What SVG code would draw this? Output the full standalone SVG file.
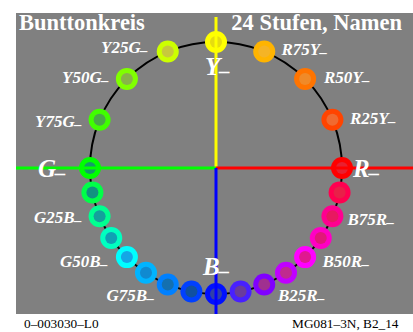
<svg xmlns="http://www.w3.org/2000/svg" width="413" height="332" viewBox="0 0 413 332">
<style>
.t{font-family:"Liberation Serif","Times New Roman",serif;fill:#fff;font-weight:bold}
.lab{font-family:"Liberation Serif","Times New Roman",serif;fill:#fff;font-weight:bold;font-style:italic;font-size:17px}
.big{font-family:"Liberation Serif","Times New Roman",serif;fill:#fff;font-weight:bold;font-style:italic;font-size:25px}
.foot{font-family:"Liberation Serif","Times New Roman",serif;fill:#000;font-size:13.3px}
.ax{stroke-width:3;fill:none}
</style>
<rect x="0" y="0" width="413" height="332" fill="#fff"/>
<rect x="16" y="13" width="397" height="301" fill="#808080"/>
<g id="connectors">
<circle cx="216" cy="168" r="126" fill="none" stroke="#000" stroke-width="2"/>
</g>
<g id="nodes">
<g id="n-Y"><circle cx="216" cy="42" r="11" fill="#ffff00"/><circle cx="216" cy="42" r="6" fill="#e6dc10"/></g>
<g id="n-R75Y"><circle cx="264.22" cy="51.59" r="11" fill="#ffb400"/><circle cx="264.22" cy="51.59" r="6" fill="#f5b426"/></g>
<g id="n-R50Y"><circle cx="305.10" cy="78.90" r="11" fill="#ff7400"/><circle cx="305.10" cy="78.90" r="6" fill="#f08a28"/></g>
<g id="n-R25Y"><circle cx="332.41" cy="119.78" r="11" fill="#ff4400"/><circle cx="332.41" cy="119.78" r="6" fill="#f06a30"/></g>
<g id="n-R"><circle cx="342" cy="168" r="11" fill="#ff0000"/><circle cx="342" cy="168" r="6" fill="#e82030"/></g>
<g id="n-B88R"><circle cx="339.58" cy="192.58" r="11" fill="#ff0050"/><circle cx="339.58" cy="192.58" r="6" fill="#e82048"/></g>
<g id="n-B75R"><circle cx="332.41" cy="216.22" r="11" fill="#ff0090"/><circle cx="332.41" cy="216.22" r="6" fill="#e81860"/></g>
<g id="n-B63R"><circle cx="320.77" cy="238.00" r="11" fill="#ff00c4"/><circle cx="320.77" cy="238.00" r="6" fill="#e01878"/></g>
<g id="n-B50R"><circle cx="305.10" cy="257.10" r="11" fill="#ff00ff"/><circle cx="305.10" cy="257.10" r="6" fill="#e01890"/></g>
<g id="n-B38R"><circle cx="286.00" cy="272.77" r="11" fill="#c000ff"/><circle cx="286.00" cy="272.77" r="6" fill="#c02a90"/></g>
<g id="n-B25R"><circle cx="264.22" cy="284.41" r="11" fill="#8000ff"/><circle cx="264.22" cy="284.41" r="6" fill="#a03090"/></g>
<g id="n-B13R"><circle cx="240.58" cy="291.58" r="11" fill="#4820ff"/><circle cx="240.58" cy="291.58" r="6" fill="#6a3c9c"/></g>
<g id="n-B"><circle cx="216" cy="294" r="11" fill="#0010ff"/><circle cx="216" cy="294" r="6" fill="#3040a8"/></g>
<g id="n-G88B"><circle cx="191.42" cy="291.58" r="11" fill="#0040ff"/><circle cx="191.42" cy="291.58" r="6" fill="#1050a0"/></g>
<g id="n-G75B"><circle cx="167.78" cy="284.41" r="11" fill="#0080ff"/><circle cx="167.78" cy="284.41" r="6" fill="#1470b0"/></g>
<g id="n-G63B"><circle cx="146.00" cy="272.77" r="11" fill="#00b4ff"/><circle cx="146.00" cy="272.77" r="6" fill="#108ad0"/></g>
<g id="n-G50B"><circle cx="126.90" cy="257.10" r="11" fill="#00ffff"/><circle cx="126.90" cy="257.10" r="6" fill="#14a6e6"/></g>
<g id="n-G38B"><circle cx="111.23" cy="238.00" r="11" fill="#00ffc0"/><circle cx="111.23" cy="238.00" r="6" fill="#10a0b4"/></g>
<g id="n-G25B"><circle cx="99.59" cy="216.22" r="11" fill="#00ff90"/><circle cx="99.59" cy="216.22" r="6" fill="#14a09c"/></g>
<g id="n-G13B"><circle cx="92.42" cy="192.58" r="11" fill="#00ff48"/><circle cx="92.42" cy="192.58" r="6" fill="#129280"/></g>
<g id="n-G"><circle cx="90" cy="168" r="11" fill="#00ff00"/><circle cx="90" cy="168" r="6" fill="#159a6a"/></g>
<g id="n-Y75G"><circle cx="99.59" cy="119.78" r="11" fill="#40ff00"/><circle cx="99.59" cy="119.78" r="6" fill="#4aa84a"/></g>
<g id="n-Y50G"><circle cx="126.90" cy="78.90" r="11" fill="#80ff00"/><circle cx="126.90" cy="78.90" r="6" fill="#88b448"/></g>
<g id="n-Y25G"><circle cx="167.78" cy="51.59" r="11" fill="#ccff00"/><circle cx="167.78" cy="51.59" r="6" fill="#c8c83c"/></g>
</g>
<g id="axes">
<line class="ax" x1="216" y1="17" x2="216" y2="168" stroke="#ffff00"/>
<line class="ax" x1="16" y1="168" x2="216" y2="168" stroke="#00ff00"/>
<line class="ax" x1="216" y1="168" x2="413" y2="168" stroke="#ff0000"/>
<line class="ax" x1="216" y1="168" x2="216" y2="314" stroke="#0000ff"/>
</g>
<g id="labels">
<text class="t" x="19" y="30" font-size="22.5">Bunttonkreis</text>
<text class="t" x="402" y="30" font-size="22.5" text-anchor="end">24 Stufen, Namen</text>
<text class="big" x="205" y="75">Y<tspan dy="-5" font-size="21px">_</tspan></text>
<text class="big" x="38" y="177">G<tspan dy="-5" font-size="21px">_</tspan></text>
<text class="big" x="353" y="177">R<tspan dy="-5" font-size="21px">_</tspan></text>
<text class="big" x="203" y="275">B<tspan dy="-5" font-size="21px">_</tspan></text>
<text class="lab" x="101" y="53">Y25G<tspan dy="-3" font-size="15px">_</tspan></text>
<text class="lab" x="62" y="83">Y50G<tspan dy="-3" font-size="15px">_</tspan></text>
<text class="lab" x="35" y="126.5">Y75G<tspan dy="-3" font-size="15px">_</tspan></text>
<text class="lab" x="34" y="223">G25B<tspan dy="-3" font-size="15px">_</tspan></text>
<text class="lab" x="60" y="266.5">G50B<tspan dy="-3" font-size="15px">_</tspan></text>
<text class="lab" x="106.5" y="300.5">G75B<tspan dy="-3" font-size="15px">_</tspan></text>
<text class="lab" x="281.5" y="55">R75Y<tspan dy="-3" font-size="15px">_</tspan></text>
<text class="lab" x="324" y="82.5">R50Y<tspan dy="-3" font-size="15px">_</tspan></text>
<text class="lab" x="350" y="124">R25Y<tspan dy="-3" font-size="15px">_</tspan></text>
<text class="lab" x="347.5" y="225">B75R<tspan dy="-3" font-size="15px">_</tspan></text>
<text class="lab" x="322.5" y="266.5">B50R<tspan dy="-3" font-size="15px">_</tspan></text>
<text class="lab" x="278" y="301">B25R<tspan dy="-3" font-size="15px">_</tspan></text>
<text class="foot" x="24" y="327.5">0–003030–L0</text>
<text class="foot" x="398.5" y="327.5" text-anchor="end">MG081–3N, B2_14</text>
</g>
</svg>
